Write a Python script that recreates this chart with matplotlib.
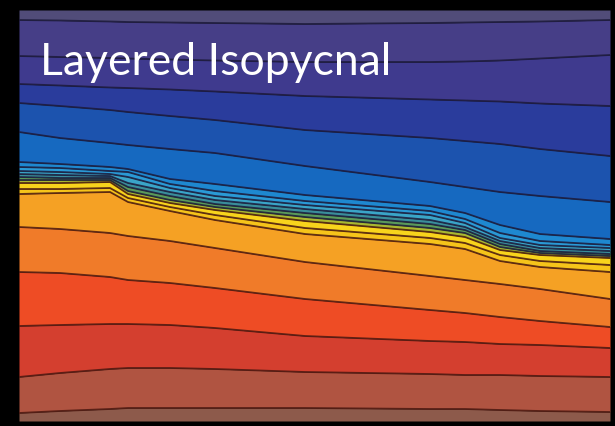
import matplotlib
matplotlib.use("Agg")
import matplotlib.pyplot as plt

# horizontal positions (distance units) at which interface depths were read
distance = [19, 60, 110, 128, 170, 215, 305, 430, 465, 500, 540, 610]

# isopycnal interface depths (depth units, increasing downward), top to bottom
iface_A  = [21, 21.5, 22.5, 23, 23.5, 24, 25, 24, 23.5, 23, 22.5, 21]
iface_B  = [57, 58, 59, 59.5, 60.5, 61.5, 63, 63, 62.5, 61.5, 59.5, 56]
iface_C  = [85, 86.5, 88.5, 89, 90.5, 92.5, 97, 100.5, 101.5, 102.5, 104.5, 107]
iface_D  = [104, 107, 111, 113, 117, 121, 131, 139, 142, 145, 150, 157]
iface_E  = [133, 139, 144, 146, 150, 154, 167, 183, 188, 193, 197, 203]
iface_F  = [163, 165, 168, 170, 180, 185, 196, 207, 214, 226, 235, 240]
iface_c1 = [168, 169, 172, 173, 185, 192, 202, 212, 220, 234, 242, 246]
iface_c2 = [172, 173, 175, 178, 189, 197, 206, 216, 224, 239, 246, 249]
iface_c3 = [175, 176, 177, 184, 193, 201, 210, 221, 228, 242, 249, 252]
iface_c4 = [178, 179, 179, 188, 197, 205, 214, 225, 231, 245, 252, 255]
iface_c5 = [181, 181, 181, 192, 201, 208, 218, 229, 234, 248, 254, 257]
iface_Y1 = [184, 184, 183, 195, 204, 211, 222, 233, 238, 251, 256, 259]
iface_Ym = [190, 190, 189, 199, 208, 216, 229, 239, 244, 256, 262, 266]
iface_Y2 = [195, 194, 193, 203, 212, 221, 235, 245, 250, 262, 268, 273]
iface_G  = [228, 230, 234, 237, 242, 249, 263, 277, 281, 285, 290, 300]
iface_H  = [273, 274, 278, 281, 284, 289, 300, 311, 314, 318, 322, 328]
iface_I  = [327, 326, 325, 325, 326, 329, 337, 342, 343, 345, 346, 349]
iface_J  = [378, 374, 370, 369, 369, 370, 373, 375, 376, 376, 377, 378]
iface_K  = [414, 412, 410, 409, 409, 409, 409, 410, 410, 411, 412, 413]

interfaces = [iface_A, iface_B, iface_C, iface_D, iface_E, iface_F,
              iface_c1, iface_c2, iface_c3, iface_c4, iface_c5,
              iface_Y1, iface_Ym, iface_Y2, iface_G, iface_H,
              iface_I, iface_J, iface_K]

layer_colors = ["#514c79", "#463e87", "#3f3a8e", "#2a3c9c", "#1c53ae",
                "#1669c0", "#1e88d0", "#2a9ad6", "#3aa5c8", "#3a8e9a",
                "#5a9a5a", "#a8b830", "#f8d41c", "#f6c41a", "#f5a124",
                "#f07b29", "#ee4c25", "#d43f2f", "#b05441", "#8d5a4b"]

title_text = "Layered Isopycnal"

top_depth = 11
bottom_depth = 422

fig = plt.figure(figsize=(6.15, 4.27), dpi=100, facecolor="black")
ax = fig.add_axes([19 / 615, 5 / 427, 591 / 615, 411 / 427])
ax.set_xlim(distance[0], distance[-1])
ax.set_ylim(bottom_depth, top_depth)
ax.axis("off")

bounds = [[top_depth] * len(distance)] + interfaces + [[bottom_depth] * len(distance)]
for i, col in enumerate(layer_colors):
    ax.fill_between(distance, bounds[i], bounds[i + 1], color=col, lw=0)

for k, line in enumerate(interfaces):
    lc = "#1c1a3a" if k < 11 else "#4a1810"
    ax.plot(distance, line, color=lc, lw=1.3, alpha=0.85)

fig.text(40 / 615, 1 - 75 / 427, title_text, color="white",
         fontsize=32, family="Lato", fontweight="normal",
         va="baseline", ha="left")

fig.savefig("out.png", dpi=100, facecolor="black")
